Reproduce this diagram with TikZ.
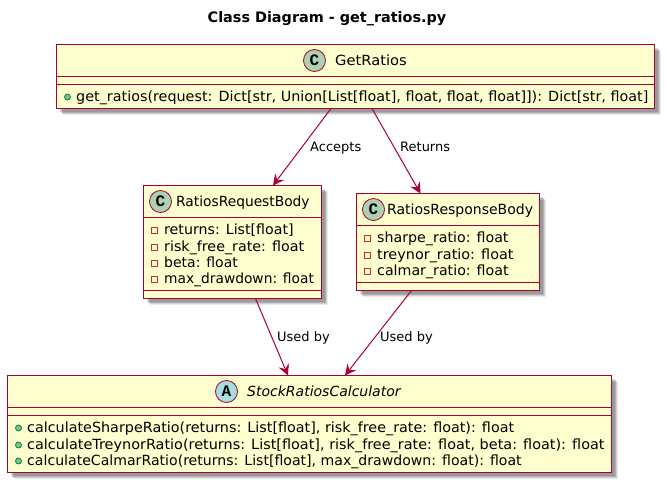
\documentclass[tikz,border=0pt]{standalone}
\usepackage{fontspec}
\setmainfont{DejaVu Sans}
\newfontfamily\spotfont{Liberation Mono}[BoldFont={Liberation Mono Bold}]
\usetikzlibrary{arrows.meta,shadows,calc}
\definecolor{umlfill}{HTML}{FEFECE}
\definecolor{umlline}{HTML}{A80036}
\definecolor{cspot}{HTML}{ADD1B2}
\definecolor{aspot}{HTML}{A9DCDF}
\definecolor{pubfill}{HTML}{84BE84}
\definecolor{publine}{HTML}{038048}
\definecolor{privline}{HTML}{C82930}
\tikzset{
  x=1pt,y=-1pt,
  shad/.style={drop shadow={shadow xshift=6pt,shadow yshift=-6pt,fill=black,opacity=.08},
               drop shadow={shadow xshift=5pt,shadow yshift=-5pt,fill=black,opacity=.12},
               drop shadow={shadow xshift=4pt,shadow yshift=-4pt,fill=black,opacity=.15},
               drop shadow={shadow xshift=3pt,shadow yshift=-3pt,fill=black,opacity=.12}},
  umlbox/.style={rectangle,draw=umlline,fill=umlfill,line width=1pt,anchor=north west,inner sep=0pt,outer sep=0pt,shad},
  divider/.style={draw=umlline,line width=1pt},
  spot/.style={circle,draw=umlline,line width=.8pt,minimum size=22pt,inner sep=0pt,font=\fontsize{16}{16}\selectfont\spotfont\bfseries},
  title/.style={font=\fontsize{14.4}{16}\selectfont\bfseries,inner sep=0pt},
  head/.style={font=\fontsize{14}{16}\selectfont,inner sep=0pt,anchor=base west},
  headit/.style={head,font=\fontsize{14}{16}\selectfont\itshape},
  member/.style={font=\fontsize{14}{16}\selectfont,inner sep=0pt,anchor=base west},
  edgelabel/.style={font=\fontsize{13}{15}\selectfont,inner sep=0pt,anchor=base west},
  conn/.style={draw=umlline,line width=1pt,-{Stealth[length=11pt,width=11pt,inset=4pt]}},
  pub/.style={circle,draw=publine,fill=pubfill,line width=.8pt,minimum size=6pt,inner sep=0pt},
  priv/.style={rectangle,draw=privline,fill=umlfill,line width=.9pt,minimum size=6pt,inner sep=0pt},
}
\begin{document}
\begin{tikzpicture}
\useasboundingbox (0,0) rectangle (667,485);
\node[title] (ttl) at (327,18.5) {Class Diagram - get\_ratios.py};

% GetRatios
\node[umlbox,minimum width=598pt,minimum height=64pt] (get) at (56.5,44.5) {};
\draw[divider] (56.5,76.5) -- (654.5,76.5) (56.5,84.5) -- (654.5,84.5);
\node[spot,fill=cspot] (getspot) at (314.5,60.5) {C};
\node[head,transform shape,xscale=1.05] (getname) at (335,65) {GetRatios};
\node[pub] (getp1) at (67.5,97) {};
\node[member,transform shape,xscale=1.025] (getm1) at (76,101) {get\_ratios(request: Dict[str, Union[List[float], float, float, float]]): Dict[str, float]};

% RatiosRequestBody
\node[umlbox,minimum width=178pt,minimum height=113pt] (req) at (143.5,185.5) {};
\draw[divider] (143.5,217.5) -- (321.5,217.5) (143.5,290.5) -- (321.5,290.5);
\node[spot,fill=cspot] (reqspot) at (160.5,201.5) {C};
\node[head,transform shape,xscale=.985] (reqname) at (176,206) {RatiosRequestBody};
\node[priv] (reqp1) at (154,230) {};
\node[priv] (reqp2) at (154,247) {};
\node[priv] (reqp3) at (154,263) {};
\node[priv] (reqp4) at (154,279) {};
\node[member,transform shape,xscale=1.015] (reqm1) at (164,234) {returns: List[float]};
\node[member,transform shape,xscale=1.02] (reqm2) at (164,251) {risk\_free\_rate: float};
\node[member] (reqm3) at (164,267) {beta: float};
\node[member,transform shape,xscale=.985] (reqm4) at (164,283) {max\_drawdown: float};

% RatiosResponseBody
\node[umlbox,minimum width=183pt,minimum height=97pt] (res) at (356.5,193.5) {};
\draw[divider] (356.5,225.5) -- (539.5,225.5) (356.5,282.5) -- (539.5,282.5);
\node[spot,fill=cspot] (resspot) at (373.5,209.5) {C};
\node[head] (resname) at (387,214) {RatiosResponseBody};
\node[priv] (resp1) at (367.5,238) {};
\node[priv] (resp2) at (367.5,255) {};
\node[priv] (resp3) at (367.5,271) {};
\node[member,transform shape,xscale=1.015] (resm1) at (377,242) {sharpe\_ratio: float};
\node[member,transform shape,xscale=1.03] (resm2) at (377,259) {treynor\_ratio: float};
\node[member,transform shape,xscale=1.015] (resm3) at (377,275) {calmar\_ratio: float};

% StockRatiosCalculator
\node[umlbox,minimum width=604pt,minimum height=97pt] (calc) at (7.5,375.5) {};
\draw[divider] (7.5,407.5) -- (611.5,407.5) (7.5,415.5) -- (611.5,415.5);
\node[spot,fill=aspot] (calcspot) at (226.5,391.5) {A};
\node[headit] (calcname) at (247,396) {StockRatiosCalculator};
\node[pub] (calcp1) at (18.5,428) {};
\node[pub] (calcp2) at (18.5,445) {};
\node[pub] (calcp3) at (18.5,461) {};
\node[member,transform shape,xscale=1.024] (calcm1) at (27,432) {calculateSharpeRatio(returns: List[float], risk\_free\_rate: float): float};
\node[member,transform shape,xscale=1.03] (calcm2) at (27,449) {calculateTreynorRatio(returns: List[float], risk\_free\_rate: float, beta: float): float};
\node[member,transform shape,xscale=1.007] (calcm3) at (27,465) {calculateCalmarRatio(returns: List[float], max\_drawdown: float): float};

% connector ends, relative to the boxes
\coordinate (getA) at ($(get.south west)+(274.5,0)$);
\coordinate (getB) at ($(get.south west)+(315.5,0)$);
\coordinate (reqT) at ($(req.north west)+(129.5,0)$);
\coordinate (resT) at ($(res.north west)+(64,0)$);
\coordinate (reqB) at ($(req.south west)+(112,0)$);
\coordinate (resB) at ($(res.south west)+(55,0)$);
\coordinate (calcL) at ($(calc.north west)+(280.5,0)$);
\coordinate (calcR) at ($(calc.north west)+(337.5,0)$);

\draw[conn] (getA) -- (reqT);
\draw[conn] (getB) -- (resT);
\draw[conn] (reqB) -- (calcL);
\draw[conn] (resB) -- (calcR);

\node[edgelabel] (l1) at (310,151) {Accepts};
\node[edgelabel] (l2) at (400,151) {Returns};
\node[edgelabel] (l3) at (277,341) {Used by};
\node[edgelabel] (l4) at (380,341) {Used by};
\end{tikzpicture}
\end{document}
